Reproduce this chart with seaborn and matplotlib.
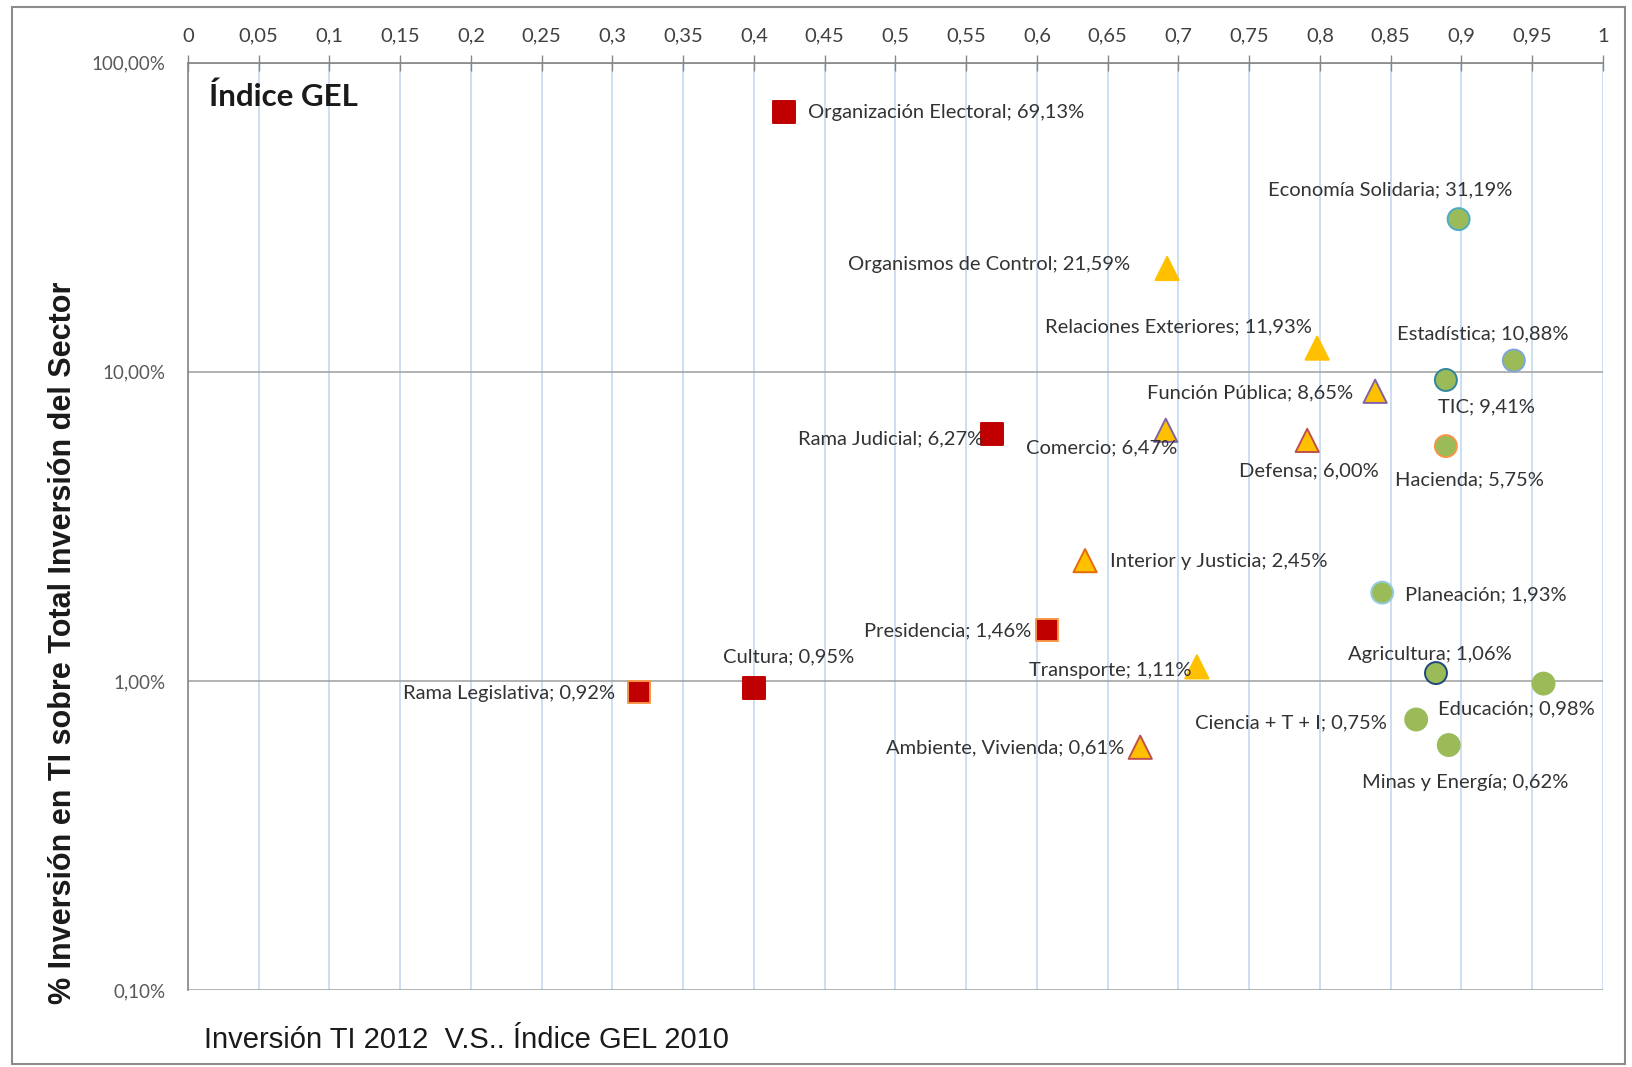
import numpy as np
import pandas as pd
import matplotlib.pyplot as plt
import matplotlib.patches as patches
from matplotlib.ticker import FixedLocator, FuncFormatter
import seaborn as sns

# Data (x: Índice GEL 2010, y: % inversión TI 2012)
sectors = ["Organización Electoral", "Economía Solidaria", "Organismos de Control",
           "Relaciones Exteriores", "Estadística", "TIC", "Función Pública", "Comercio",
           "Rama Judicial", "Defensa", "Hacienda", "Interior y Justicia", "Planeación",
           "Presidencia", "Transporte", "Agricultura", "Educación", "Cultura",
           "Rama Legislativa", "Ciencia + T + I", "Minas y Energía", "Ambiente, Vivienda"]
gel_index = [0.421, 0.898, 0.692, 0.798, 0.937, 0.889, 0.839, 0.691,
             0.568, 0.791, 0.889, 0.634, 0.844, 0.607, 0.713, 0.882,
             0.958, 0.400, 0.319, 0.868, 0.891, 0.673]
invest_pct = [69.13, 31.19, 21.59, 11.93, 10.88, 9.41, 8.65, 6.47,
              6.27, 6.00, 5.75, 2.45, 1.93, 1.46, 1.11, 1.06,
              0.98, 0.95, 0.92, 0.75, 0.62, 0.61]
group = ["bajo", "alto", "medio", "medio", "alto", "alto", "medio", "medio",
         "bajo", "medio", "alto", "medio", "alto", "bajo", "medio", "alto",
         "alto", "bajo", "bajo", "alto", "alto", "medio"]

df = pd.DataFrame({"sector": sectors, "gel": gel_index, "pct": invest_pct, "grupo": group})

# styles
fill = {"bajo": "#C00000", "medio": "#FFC000", "alto": "#9BBB59"}
marker = {"bajo": "s", "medio": "^", "alto": "o"}
edge = ["#C00000", "#4BACC6", "#FFC000", "#FFC000", "#7FA7D4", "#31859C", "#8064A2", "#8064A2",
        "#C00000", "#C0504D", "#F79646", "#E46C0A", "#93CDDD", "#F79646", "#FFC000", "#1F497D",
        "#9BBB59", "#C00000", "#F79646", "#9BBB59", "#9BBB59", "#C0504D"]
df["edge"] = edge
# label offsets in pixels (dx, dy, ha)
offsets = [(24, 0, "left"), (54, 29, "right"), (-37, 4, "right"), (-5, 21, "right"),
           (55, 27, "right"), (-8, -27, "left"), (-22, -2, "right"), (12, -18, "right"),
           (-8, -4, "right"), (72, -30, "right"), (98, -34, "right"), (25, -1, "left"),
           (23, -2, "left"), (-16, -1, "right"), (-5, -4, "right"), (76, 19, "right"),
           (51, -25, "right"), (100, 31, "right"), (-24, -1, "right"), (-29, -3, "right"),
           (120, -37, "right"), (-16, -1, "right")]

sns.set_style("white")
plt.rcParams["font.family"] = ["Lato", "DejaVu Sans"]

fig = plt.figure(figsize=(16.33, 10.67), dpi=100)
ax = fig.add_axes([0.1151, 0.0722, 0.8665, 0.869])

for g in ["bajo", "medio", "alto"]:
    sub = df[df["grupo"] == g]
    sns.scatterplot(data=sub, x="gel", y="pct", ax=ax, marker=marker[g], color=fill[g],
                    edgecolor=sub["edge"].tolist(), linewidth=1.4, s=250 if g != "medio" else 280,
                    zorder=3, legend=False)

for i, row in df.iterrows():
    dx, dy, ha = offsets[i]
    txt = f"{row['sector']}; {row['pct']:.2f}%".replace(".", ",")
    ax.annotate(txt, (row["gel"], row["pct"]), xytext=(dx, dy), textcoords="offset pixels",
                ha=ha, va="center", fontsize=14.5, color="#333333", zorder=4)

ax.set_yscale("log")
ax.set_xlim(0, 1)
ax.set_ylim(0.1, 100)
ax.xaxis.tick_top()
ax.xaxis.set_major_locator(FixedLocator(np.arange(0, 1.0001, 0.05)))
ax.xaxis.set_major_formatter(FuncFormatter(lambda v, p: f"{v:g}".replace(".", ",")))
ax.yaxis.set_major_locator(FixedLocator([0.1, 1, 10, 100]))
ax.yaxis.set_minor_locator(FixedLocator([]))
ax.yaxis.set_major_formatter(FuncFormatter(lambda v, p: f"{v:.2f}%".replace(".", ",")))
ax.tick_params(axis="x", direction="inout", length=12, width=1, color="#868686",
               labelsize=14.5, labelcolor="#404040", pad=7)
ax.tick_params(axis="y", direction="out", length=7, width=1, color="#868686",
               labelsize=13.5, labelcolor="#595959", pad=9)

ax.xaxis.grid(True, color="#C6D9F1", linewidth=1.2, zorder=0)
ax.yaxis.grid(True, color="#A6A6A6", linewidth=1.2, zorder=0)
ax.set_axisbelow(True)
for s in ["right", "bottom"]:
    ax.spines[s].set_visible(False)
for s in ["top", "left"]:
    ax.spines[s].set_color("#868686")
    ax.spines[s].set_linewidth(1.2)

ax.set_xlabel("")
ax.set_ylabel("% Inversión en TI sobre Total Inversión del Sector", fontsize=22,
              fontweight="bold", family=["Liberation Sans", "DejaVu Sans"], color="#1a1a1a")
ax.yaxis.set_label_coords(-0.078, 0.374)

ax.text(0.015, 0.963, "Índice GEL", transform=ax.transAxes, fontsize=22.5, fontweight="bold",
        color="#1a1a1a", va="center", ha="left")
fig.text(0.125, 0.025, "Inversión TI 2012  V.S.. Índice GEL 2010", fontsize=21,
         family=["Liberation Sans", "DejaVu Sans"], color="#1a1a1a", va="center", ha="left")

fig.patches.append(patches.Rectangle((12 / 1633, 3 / 1067), 1613 / 1633, 1057 / 1067,
                                     transform=fig.transFigure, fill=False,
                                     edgecolor="#8C8C8C", linewidth=1.5))

fig.savefig("out.png", dpi=100)
